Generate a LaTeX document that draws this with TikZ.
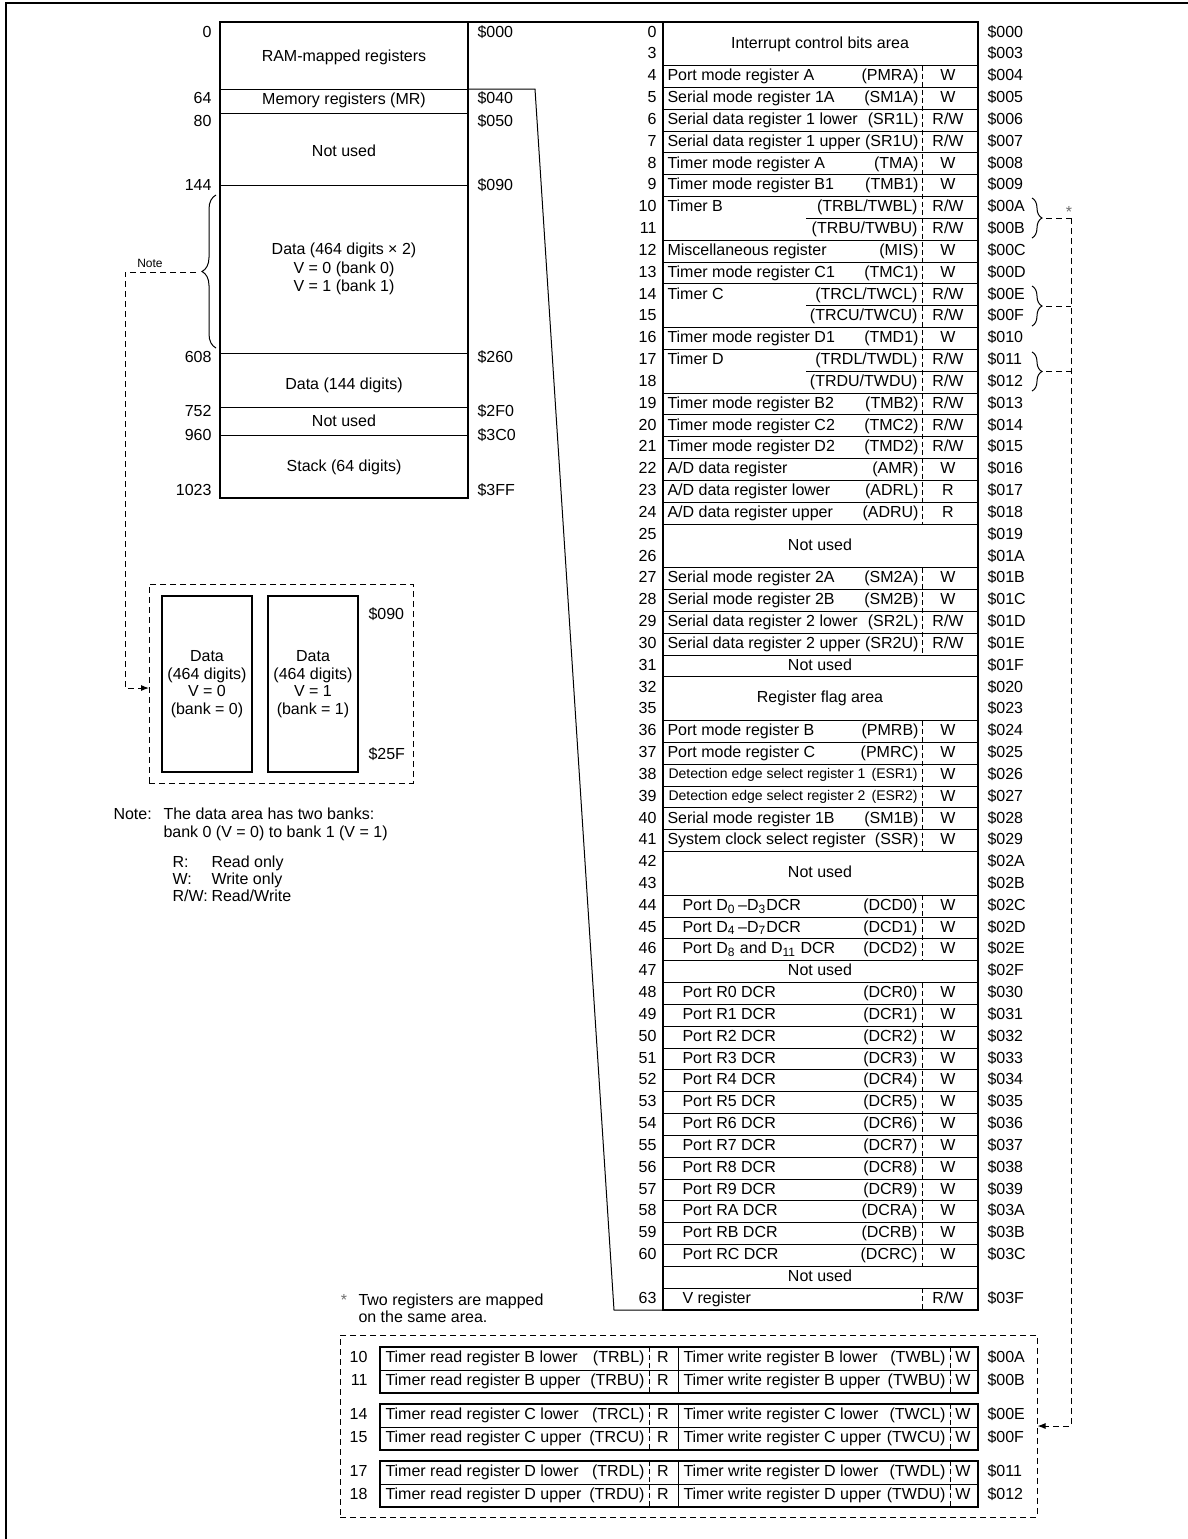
\documentclass[tikz,border=0pt]{standalone}
\usepackage{fontspec}
\setmainfont{Liberation Sans}
\usetikzlibrary{arrows.meta, decorations.pathreplacing, positioning}
\definecolor{stargray}{RGB}{110,110,110}

\begin{document}
\begin{tikzpicture}[x=0.5pt, y=-0.5pt, line width=0.5pt,
    txt/.style={font=\fontsize{8}{9.6}\selectfont, inner sep=0pt, text height=5.8pt, text depth=1.6pt},
    smalltxt/.style={font=\fontsize{7}{8.4}\selectfont, inner sep=0pt, text height=5.1pt, text depth=1.4pt},
    numtxt/.style={txt, anchor=east},
    lefttxt/.style={txt, anchor=west},
    righttxt/.style={txt, anchor=east},
    frame/.style={line width=0.7pt},
    sepline/.style={dash pattern=on 2.5pt off 1.5pt},
    noteline/.style={dash pattern=on 3pt off 2pt},
    block/.style={draw, frame, minimum width=45pt, minimum height=88pt, inner sep=0pt,
      align=center, font=\fontsize{8}{8.85}\selectfont},
    groupbox/.style={draw, noteline, inner sep=0pt}]
  \useasboundingbox (0,0) rectangle (1188,1539);
  \draw[frame] (6,1539) -- (6,3) -- (1188,3);

  % Memory map
  \draw[frame] (220,22) rectangle (468,498);
  \foreach \y in {89,113,185,353,407,435}
    \draw (220,\y) -- (468,\y);
  \foreach \y/\dec/\hx in {33/0/000, 99/64/040, 122/80/050, 186/144/090, 358/608/260, 412/752/2F0, 436/960/3C0, 491/1023/3FF}{
    \node[numtxt] (m\dec) at (212,\y) {\dec};
    \node[lefttxt] (mh\hx) at (477,\y) {\$\hx};
  }
  \node[txt] (ramreg) at (344,57) {RAM-mapped registers};
  \node[txt] (memreg) at (344,100) {Memory registers (MR)};
  \node[txt] (unusedA) at (344,152) {Not used};
  \node[align=center, inner sep=0pt, font=\fontsize{8}{9.25}\selectfont] (databank) at (344,269) {Data (464 digits × 2)\\V = 0 (bank 0)\\V = 1 (bank 1)};
  \node[txt] (dataB) at (344,385) {Data (144 digits)};
  \node[txt] (unusedB) at (344,422) {Not used};
  \node[txt] (stack) at (344,467) {Stack (64 digits)};
  \draw[decorate, decoration={brace, amplitude=7pt}] (216,348) -- (216,195);

  % Zoom lines to the register table
  \coordinate (mapTop) at (468,22);
  \coordinate (mrEnd) at (468,89);
  \coordinate (zoomA) at (535,89);
  \coordinate (zoomB) at (614,1310);
  \coordinate (tabTop) at (663,22);
  \coordinate (tabBot) at (663,1310);
  \draw[frame] (mapTop) -- (tabTop);
  \draw (mrEnd) -- (zoomA) -- (zoomB) -- (tabBot);

  % Note: the two data banks
  \node[font=\fontsize{6}{7}\selectfont, inner sep=0pt] (notelbl) at (150,263) {Note};
  \coordinate (notetip) at (196,272);
  \coordinate (noteend) at (149,688);
  \node[groupbox, minimum width=132pt, minimum height=99.5pt] (bankbox) at (281,683.5) {};
  \draw[noteline, -{Latex[length=4pt, width=3pt]}] (notetip) -- (125,272) |- (noteend);
  \node[block] (bank0) at (207,684) {Data\\(464 digits)\\V = 0\\(bank = 0)};
  \node[block] (bank1) at (313,684) {Data\\(464 digits)\\V = 1\\(bank = 1)};
  \node[lefttxt] (bankTop) at (368,615) {\$090};
  \node[lefttxt] (bankBot) at (368,755) {\$25F};

  \node[lefttxt] (notehead) at (113,815) {Note:};
  \node[lefttxt] (noteA) at (163,815) {The data area has two banks:};
  \node[lefttxt] (noteB) at (163,833) {bank 0 (V = 0) to bank 1 (V = 1)};
  \node[lefttxt] (keyR) at (172,863) {R:};
  \node[lefttxt] (keyRtext) at (211,863) {Read only};
  \node[lefttxt] (keyW) at (172,880) {W:};
  \node[lefttxt] (keyWtext) at (211,880) {Write only};
  \node[lefttxt] (keyRW) at (172,897) {R/W:};
  \node[lefttxt] (keyRWtext) at (211,897) {Read/Write};

  % Register table (row height 21.83)
  \draw[frame] (663,22) rectangle (978,1310);
  \foreach \k in {2,3,4,5,6,7,8,10,11,12,14,15,17,18,19,20,21,22,23,25,26,27,28,29,30,32,33,34,35,36,37,38,40,41,42,43,44,45,46,47,48,49,50,51,52,53,54,55,56,57,58}
    \draw (663,{22+\k*21.83}) -- (978,{22+\k*21.83});
  \foreach \k in {9,13,16}
    \draw (806,{22+\k*21.83}) -- (978,{22+\k*21.83});
  \foreach \a/\b in {2/23, 25/29, 32/38, 40/43, 44/57, 58/59}
    \draw[sepline] (922,{22+\a*21.83}) -- (922,{22+\b*21.83});

  \foreach \row/\num/\rname/\rab/\acc/\hx in {
      2/4/Port mode register A/PMRA/W/004,
      3/5/Serial mode register 1A/SM1A/W/005,
      4/6/Serial data register 1 lower/SR1L/{R/W}/006,
      5/7/Serial data register 1 upper/SR1U/{R/W}/007,
      6/8/Timer mode register A/TMA/W/008,
      7/9/Timer mode register B1/TMB1/W/009,
      10/12/Miscellaneous register/MIS/W/00C,
      11/13/Timer mode register C1/TMC1/W/00D,
      14/16/Timer mode register D1/TMD1/W/010,
      17/19/Timer mode register B2/TMB2/{R/W}/013,
      18/20/Timer mode register C2/TMC2/{R/W}/014,
      19/21/Timer mode register D2/TMD2/{R/W}/015,
      20/22/{A/D data register}/AMR/W/016,
      21/23/{A/D data register lower}/ADRL/R/017,
      22/24/{A/D data register upper}/ADRU/R/018,
      25/27/Serial mode register 2A/SM2A/W/01B,
      26/28/Serial mode register 2B/SM2B/W/01C,
      27/29/Serial data register 2 lower/SR2L/{R/W}/01D,
      28/30/Serial data register 2 upper/SR2U/{R/W}/01E,
      32/36/Port mode register B/PMRB/W/024,
      33/37/Port mode register C/PMRC/W/025,
      36/40/Serial mode register 1B/SM1B/W/028,
      37/41/System clock select register/SSR/W/029}{
    \pgfmathsetmacro\yc{22+(\row+0.5)*21.83}
    \node[numtxt] (n\num) at (657,\yc) {\num};
    \node[lefttxt] (reg\num) at (667,\yc) {\rname};
    \node[righttxt] (ab\num) at (919,\yc) {(\rab)};
    \node[txt] (rw\num) at (948,\yc) {\acc};
    \node[lefttxt] (hx\num) at (987,\yc) {\$\hx};
  }

  % Timers B, C, D share two addresses each
  \foreach \row/\na/\nb/\tm/\ha/\hb in {8/10/11/B/00A/00B, 12/14/15/C/00E/00F, 15/17/18/D/011/012}{
    \pgfmathsetmacro\ya{22+(\row+0.5)*21.83}
    \pgfmathsetmacro\yb{22+(\row+1.5)*21.83}
    \node[numtxt] (n\na) at (657,\ya) {\na};
    \node[numtxt] (n\nb) at (657,\yb) {\nb};
    \node[lefttxt] (reg\na) at (667,\ya) {Timer \tm};
    \node[righttxt] (ab\na) at (918,\ya) {(TR\tm L/TW\tm L)};
    \node[righttxt] (ab\nb) at (918,\yb) {(TR\tm U/TW\tm U)};
    \node[txt] (rw\na) at (948,\ya) {R/W};
    \node[txt] (rw\nb) at (948,\yb) {R/W};
    \node[lefttxt] (hx\na) at (987,\ya) {\$\ha};
    \node[lefttxt] (hx\nb) at (987,\yb) {\$\hb};
  }

  % Areas over two rows
  \foreach \row/\na/\nb/\rname/\ha/\hb in {0/0/3/Interrupt control bits area/000/003, 23/25/26/Not used/019/01A, 30/32/35/Register flag area/020/023, 38/42/43/Not used/02A/02B}{
    \pgfmathsetmacro\ya{22+(\row+0.5)*21.83}
    \pgfmathsetmacro\yb{22+(\row+1.5)*21.83}
    \pgfmathsetmacro\ym{22+(\row+1)*21.83}
    \node[numtxt] (n\na) at (657,\ya) {\na};
    \node[numtxt] (n\nb) at (657,\yb) {\nb};
    \node[txt] (reg\na) at (820,\ym) {\rname};
    \node[lefttxt] (hx\na) at (987,\ya) {\$\ha};
    \node[lefttxt] (hx\nb) at (987,\yb) {\$\hb};
  }
  \foreach \row/\num/\hx in {29/31/01F, 43/47/02F}{
    \pgfmathsetmacro\yc{22+(\row+0.5)*21.83}
    \node[numtxt] (n\num) at (657,\yc) {\num};
    \node[txt] (reg\num) at (820,\yc) {Not used};
    \node[lefttxt] (hx\num) at (987,\yc) {\$\hx};
  }
  \node[txt] (unused61) at (820,{22+57.5*21.83}) {Not used};

  % Detection edge registers (smaller type)
  \foreach \row/\num/\idx/\hx in {34/38/1/026, 35/39/2/027}{
    \pgfmathsetmacro\yc{22+(\row+0.5)*21.83}
    \node[numtxt] (n\num) at (657,\yc) {\num};
    \node[smalltxt, anchor=west] (reg\num) at (668,\yc) {Detection edge select register \idx};
    \node[smalltxt, anchor=east] (ab\num) at (918,\yc) {(ESR\idx)};
    \node[txt] (rw\num) at (948,\yc) {W};
    \node[lefttxt] (hx\num) at (987,\yc) {\$\hx};
  }

  % Port data control registers
  \foreach \row/\num/\rname/\rab/\hx in {
      40/44/{Port D\textsubscript{0}\,--D\textsubscript{3}DCR}/DCD0/02C,
      41/45/{Port D\textsubscript{4}\,--D\textsubscript{7}DCR}/DCD1/02D,
      42/46/{Port D\textsubscript{8} and D\textsubscript{11} DCR}/DCD2/02E}{
    \pgfmathsetmacro\yc{22+(\row+0.5)*21.83}
    \node[numtxt] (n\num) at (657,\yc) {\num};
    \node[lefttxt] (reg\num) at (682,\yc) {\rname};
    \node[righttxt] (ab\num) at (918,\yc) {(\rab)};
    \node[txt] (rw\num) at (948,\yc) {W};
    \node[lefttxt] (hx\num) at (987,\yc) {\$\hx};
  }
  \foreach \pn [count=\k from 0] in {0,1,2,3,4,5,6,7,8,9,A,B,C}{
    \pgfmathsetmacro\yc{22+(44+\k+0.5)*21.83}
    \pgfmathtruncatemacro\num{48+\k}
    \node[numtxt] (n\num) at (657,\yc) {\num};
    \node[lefttxt] (reg\num) at (682,\yc) {Port R\pn\ DCR};
    \node[righttxt] (ab\num) at (918,\yc) {(DCR\pn)};
    \node[txt] (rw\num) at (948,\yc) {W};
    \node[lefttxt] (hx\num) at (987,\yc) {\$03\pn};
  }
  \node[numtxt] (n63) at (657,{22+58.5*21.83}) {63};
  \node[lefttxt] (reg63) at (682,{22+58.5*21.83}) {V register};
  \node[txt] (rw63) at (948,{22+58.5*21.83}) {R/W};
  \node[lefttxt] (hx63) at (987,{22+58.5*21.83}) {\$03F};

  % Braces for the shared timer registers
  \foreach \ya/\yb in {198/238, 286/326, 352/391}
    \draw[decorate, decoration={brace, amplitude=5pt}] (1032,\ya) -- (1032,\yb);
  \coordinate (tipB) at (1046,218);
  \coordinate (tipC) at (1046,306);
  \coordinate (tipD) at (1046,371);
  \coordinate (starLine) at (1071,218);
  \node[txt, text=stargray, anchor=base] (star) at (1069,217) {*};

  % Timer read/write registers
  \node[groupbox, minimum width=348.5pt, minimum height=91pt] (timerbox) at (688.5,1426) {};
  \draw[noteline] (tipB) -- (starLine);
  \draw[noteline] (tipC) -- (tipC -| starLine);
  \draw[noteline] (tipD) -- (tipD -| starLine);
  \draw[noteline, -{Latex[length=4pt, width=3pt]}] (starLine) |- (timerbox.east);

  \node[txt, text=stargray, anchor=base] (fstar) at (344,1305) {*};
  \node[lefttxt, anchor=base west] (fnoteA) at (358,1305) {Two registers are mapped};
  \node[lefttxt, anchor=base west] (fnoteB) at (358,1322) {on the same area.};

  \foreach \tg/\ytop/\na/\nb/\ha/\hb in {B/1347/10/11/00A/00B, C/1404/14/15/00E/00F, D/1461/17/18/011/012}{
    \draw[frame] (380,\ytop) rectangle (978,{\ytop+46});
    \draw (380,{\ytop+23}) -- (978,{\ytop+23});
    \draw (678,\ytop) -- (678,{\ytop+46});
    \draw[sepline] (649,\ytop) -- (649,{\ytop+46});
    \draw[sepline] (950,\ytop) -- (950,{\ytop+46});
    \pgfmathsetmacro\ya{\ytop+11.5}
    \pgfmathsetmacro\yb{\ytop+34.5}
    \node[numtxt] (bn\na) at (368,\ya) {\na};
    \node[lefttxt] (rd\na) at (385,\ya) {Timer read register \tg{} lower};
    \node[righttxt] (rdab\na) at (645,\ya) {(TR\tg L)};
    \node[txt] (rdr\na) at (663,\ya) {R};
    \node[lefttxt] (wr\na) at (683,\ya) {Timer write register \tg{} lower};
    \node[righttxt] (wrab\na) at (946,\ya) {(TW\tg L)};
    \node[txt] (wrw\na) at (963,\ya) {W};
    \node[lefttxt] (bh\na) at (987,\ya) {\$\ha};
    \node[numtxt] (bn\nb) at (368,\yb) {\nb};
    \node[lefttxt] (rd\nb) at (385,\yb) {Timer read register \tg{} upper};
    \node[righttxt] (rdab\nb) at (645,\yb) {(TR\tg U)};
    \node[txt] (rdr\nb) at (663,\yb) {R};
    \node[lefttxt] (wr\nb) at (683,\yb) {Timer write register \tg{} upper};
    \node[righttxt] (wrab\nb) at (946,\yb) {(TW\tg U)};
    \node[txt] (wrw\nb) at (963,\yb) {W};
    \node[lefttxt] (bh\nb) at (987,\yb) {\$\hb};
  }
\end{tikzpicture}
\end{document}
